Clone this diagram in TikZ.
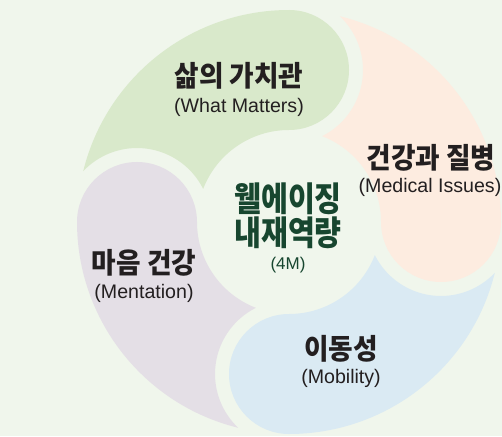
\documentclass[tikz,border=0pt]{standalone}
\usepackage{fontspec}
\newfontfamily\kofont{Noto Sans CJK KR}
\newfontfamily\enfont{Liberation Sans}

\definecolor{bgc}{HTML}{F0F6EC}
\definecolor{wmc}{HTML}{D9E9CB}
\definecolor{mic}{HTML}{FDECE0}
\definecolor{moc}{HTML}{DAEAF3}
\definecolor{mec}{HTML}{E4DFE6}
\definecolor{txt}{HTML}{231F20}
\definecolor{core}{HTML}{17462F}

% One swirl petal: round head at angle #1 (radius 60, centre 152 from O),
% body running counter-clockwise in the ring 92..212 until it meets the
% 74-radius clearance circle around the next petal's head.
\newcommand\swirlpetal[2]{%
  \fill[#2, shift={(O)}] (#1:212)
    arc[start angle=#1, end angle=#1-180, radius=60]
    arc[start angle=#1, end angle=#1+68.895, radius=92]
    arc[start angle=#1-63.40, end angle=#1+46.67, radius=74]
    arc[start angle=#1+76.14, end angle=#1, radius=212] -- cycle;}

\begin{document}
\begin{tikzpicture}[x=1pt,y=1pt,
  kolabel/.style={font=\kofont\bfseries\fontsize{27.5}{27.5}\selectfont, text=txt, inner sep=0pt, anchor=base},
  enlabel/.style={font=\enfont\fontsize{19.6}{19.6}\selectfont, text=txt, inner sep=0pt, anchor=base},
  corelabel/.style={font=\kofont\bfseries\fontsize{34}{34}\selectfont, text=core, inner sep=0pt, anchor=base},
  coresub/.style={font=\enfont\fontsize{17}{17}\selectfont, text=core, inner sep=0pt, anchor=base}]
\useasboundingbox (0,0) rectangle (502,436);
\fill[bgc] (0,0) rectangle (502,436);
\coordinate (O) at (289,214);

\swirlpetal{90}{wmc}
\swirlpetal{0}{mic}
\swirlpetal{-90}{moc}
\swirlpetal{180}{mec}

% petal labels
\node[kolabel] (wm-ko) at (239,349) {\scalebox{0.97}[1.04]{삶의 가치관}};
\node[enlabel] (wm-en) at (239,323) {(What Matters)};
\node[kolabel] (mi-ko) at (431,267) {\scalebox{0.97}[1.04]{건강과 질병}};
\node[enlabel] (mi-en) at (430,243) {(Medical Issues)};
\node[kolabel] (me-ko) at (144,162) {\scalebox{0.97}[1.04]{마음 건강}};
\node[enlabel] (me-en) at (144,138) {(Mentation)};
\node[kolabel] (mo-ko) at (341,77) {\scalebox{0.97}[1.04]{이동성}};
\node[enlabel] (mo-en) at (341,53) {(Mobility)};

% centre
\node[corelabel] (core1) at (288,224) {\scalebox{0.86}[1]{웰에이징}};
\node[corelabel] (core2) at (288,190) {\scalebox{0.86}[1]{내재역량}};
\node[coresub] (core3) at (288,166) {(4M)};
\end{tikzpicture}
\end{document}
